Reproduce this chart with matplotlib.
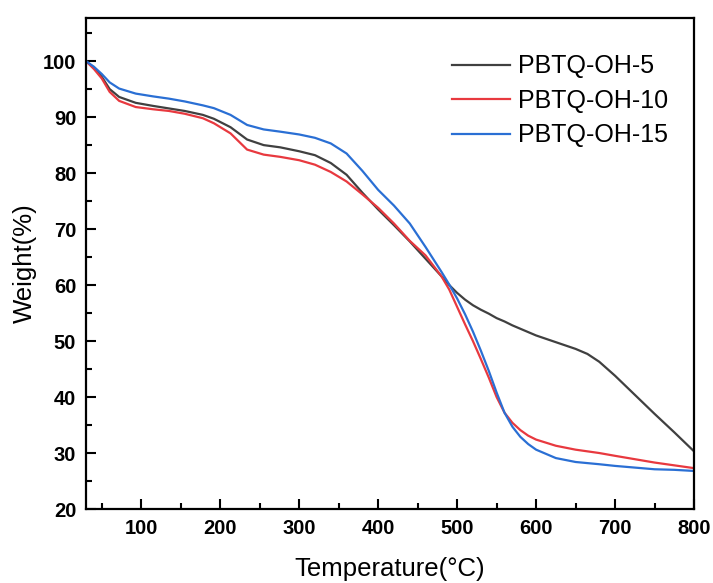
import matplotlib
matplotlib.use("Agg")
import matplotlib.pyplot as plt
from matplotlib.ticker import MultipleLocator

plt.rcParams['font.family'] = ['Liberation Sans', 'DejaVu Sans']

temperature = [30, 40, 50, 60, 72, 93, 115, 135, 155, 178, 192, 213, 234, 255, 276, 300,
               320, 340, 360, 380, 400, 420, 440, 460, 480, 490, 500, 510, 520, 530,
               540, 550, 560, 570, 580, 590, 600, 625, 650, 665, 680, 700, 725, 750, 775, 800]

pbtq_oh_5 = [100, 98.8, 97.2, 95.0, 93.6, 92.55, 92.0, 91.55, 91.1, 90.4, 89.7, 88.2, 86.0,
             85.0, 84.6, 83.9, 83.2, 81.8, 79.7, 76.5, 73.5, 70.7, 67.8, 64.7, 61.6, 60.0,
             58.6, 57.4, 56.4, 55.6, 54.9, 54.1, 53.5, 52.8, 52.2, 51.6, 51.0, 49.8, 48.6,
             47.7, 46.3, 43.8, 40.4, 37.0, 33.7, 30.3]

pbtq_oh_10 = [100, 98.6, 96.9, 94.5, 92.9, 91.8, 91.4, 91.1, 90.6, 89.8, 88.9, 87.1, 84.2,
              83.3, 82.9, 82.3, 81.5, 80.2, 78.5, 76.2, 73.8, 71.0, 67.9, 65.3, 61.6, 59.2,
              56.1, 53.0, 50.0, 46.8, 43.5, 40.0, 37.2, 35.4, 34.1, 33.1, 32.4, 31.3, 30.6,
              30.3, 30.0, 29.5, 28.9, 28.3, 27.8, 27.3]

pbtq_oh_15 = [100, 99.0, 97.7, 96.2, 95.1, 94.2, 93.7, 93.3, 92.8, 92.1, 91.6, 90.4, 88.6,
              87.8, 87.4, 86.9, 86.3, 85.3, 83.5, 80.4, 77.0, 74.2, 71.0, 66.8, 62.4, 60.1,
              57.6, 54.8, 51.7, 48.3, 44.7, 40.8, 37.2, 34.7, 32.9, 31.6, 30.6, 29.1, 28.4,
              28.2, 28.0, 27.7, 27.4, 27.1, 27.0, 26.8]

series_labels = ['PBTQ-OH-5', 'PBTQ-OH-10', 'PBTQ-OH-15']
series_colors = ['#404040', '#e8393f', '#2a6fd4']

fig = plt.figure(figsize=(7.13, 5.83), dpi=100)
ax = fig.add_axes([0.1206, 0.1269, 0.8528, 0.8422])

for ys, lab, col in zip([pbtq_oh_5, pbtq_oh_10, pbtq_oh_15], series_labels, series_colors):
    ax.plot(temperature, ys, color=col, lw=1.6, label=lab)

ax.set_xlim(30, 800)
ax.set_ylim(20, 107.7)
ax.xaxis.set_major_locator(MultipleLocator(100))
ax.xaxis.set_minor_locator(MultipleLocator(50))
ax.yaxis.set_major_locator(MultipleLocator(10))
ax.yaxis.set_minor_locator(MultipleLocator(5))
ax.set_xticks([100, 200, 300, 400, 500, 600, 700, 800])

ax.tick_params(which='major', direction='in', length=7, width=1.5, labelsize=14.5, pad=7,
               top=False, right=False)
ax.tick_params(which='minor', direction='in', length=4, width=1.5, top=False, right=False)
for lbl in ax.get_xticklabels() + ax.get_yticklabels():
    lbl.set_fontweight('bold')
for sp in ax.spines.values():
    sp.set_linewidth(1.6)

ax.set_xlabel('Temperature(°C)', fontsize=18.5, labelpad=14)
ax.set_ylabel('Weight(%)', fontsize=18.5, labelpad=4)

leg = ax.legend(loc='upper left', bbox_to_anchor=(0.602, 0.926), frameon=False, fontsize=18,
                handlelength=2.3, handletextpad=0.32, labelspacing=0.42,
                borderaxespad=0, borderpad=0)

fig.savefig('out.png', dpi=100)
